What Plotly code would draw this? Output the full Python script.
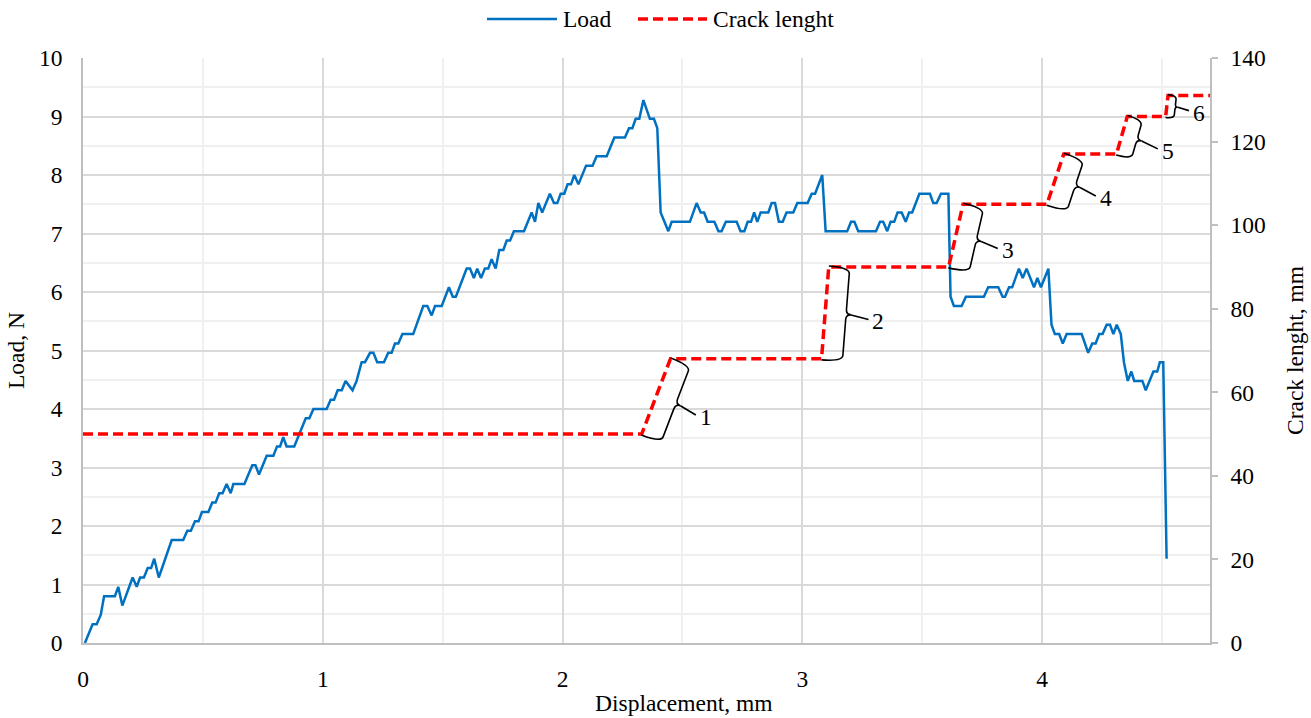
import math
import plotly.graph_objects as go

# Load–displacement record
displacement = [
    0.008, 0.040, 0.057, 0.074, 0.088, 0.133, 0.147, 0.164, 0.207, 0.224,
    0.238, 0.254, 0.270, 0.284, 0.297, 0.316, 0.370, 0.418, 0.435, 0.450,
    0.467, 0.482, 0.496, 0.523, 0.539, 0.553, 0.568, 0.582, 0.599, 0.616,
    0.627, 0.673, 0.706, 0.719, 0.734, 0.766, 0.794, 0.809, 0.822, 0.835,
    0.849, 0.881, 0.929, 0.944, 0.961, 1.016, 1.033, 1.047, 1.062, 1.079,
    1.095, 1.124, 1.141, 1.162, 1.176, 1.197, 1.211, 1.227, 1.255, 1.273,
    1.287, 1.301, 1.315, 1.332, 1.377, 1.419, 1.436, 1.454, 1.468, 1.496,
    1.526, 1.542, 1.555, 1.600, 1.614, 1.630, 1.644, 1.660, 1.676, 1.690,
    1.704, 1.721, 1.736, 1.753, 1.767, 1.781, 1.797, 1.839, 1.871, 1.885,
    1.899, 1.915, 1.947, 1.964, 1.978, 1.992, 2.007, 2.021, 2.035, 2.049,
    2.066, 2.098, 2.125, 2.142, 2.184, 2.216, 2.260, 2.277, 2.291, 2.305,
    2.320, 2.337, 2.364, 2.381, 2.395, 2.409, 2.441, 2.455, 2.531, 2.559,
    2.576, 2.590, 2.605, 2.633, 2.650, 2.663, 2.681, 2.726, 2.742, 2.758,
    2.772, 2.786, 2.799, 2.812, 2.826, 2.858, 2.872, 2.886, 2.902, 2.918,
    2.934, 2.962, 2.979, 3.022, 3.039, 3.053, 3.083, 3.097, 3.187, 3.203,
    3.217, 3.233, 3.307, 3.324, 3.337, 3.354, 3.368, 3.383, 3.397, 3.414,
    3.431, 3.445, 3.458, 3.488, 3.532, 3.546, 3.560, 3.578, 3.609, 3.618,
    3.632, 3.664, 3.682, 3.757, 3.775, 3.817, 3.835, 3.845, 3.862, 3.875,
    3.903, 3.919, 3.935, 3.966, 3.980, 3.995, 4.026, 4.039, 4.053, 4.071,
    4.086, 4.102, 4.165, 4.192, 4.209, 4.223, 4.238, 4.252, 4.269, 4.283,
    4.297, 4.311, 4.328, 4.341, 4.357, 4.372, 4.384, 4.418, 4.432, 4.464,
    4.480, 4.491, 4.505, 4.519,
]
load = [
    0.00, 0.32, 0.32, 0.48, 0.80, 0.80, 0.96, 0.64, 1.12, 0.96,
    1.12, 1.12, 1.28, 1.28, 1.44, 1.12, 1.76, 1.76, 1.92, 1.92,
    2.08, 2.08, 2.24, 2.24, 2.40, 2.40, 2.56, 2.56, 2.72, 2.56,
    2.72, 2.72, 3.04, 3.04, 2.88, 3.20, 3.20, 3.36, 3.36, 3.52,
    3.36, 3.36, 3.84, 3.84, 4.00, 4.00, 4.16, 4.16, 4.32, 4.32,
    4.48, 4.32, 4.48, 4.80, 4.80, 4.96, 4.96, 4.80, 4.80, 4.96,
    4.96, 5.12, 5.12, 5.28, 5.28, 5.76, 5.76, 5.60, 5.76, 5.76,
    6.08, 5.92, 5.92, 6.40, 6.40, 6.24, 6.40, 6.24, 6.40, 6.40,
    6.56, 6.40, 6.72, 6.72, 6.88, 6.88, 7.04, 7.04, 7.36, 7.20,
    7.52, 7.36, 7.68, 7.52, 7.52, 7.68, 7.68, 7.84, 7.84, 8.00,
    7.84, 8.16, 8.16, 8.32, 8.32, 8.64, 8.64, 8.80, 8.80, 8.96,
    8.96, 9.28, 8.96, 8.96, 8.80, 7.36, 7.04, 7.20, 7.20, 7.52,
    7.36, 7.36, 7.20, 7.20, 7.04, 7.04, 7.20, 7.20, 7.04, 7.04,
    7.20, 7.20, 7.36, 7.20, 7.36, 7.36, 7.52, 7.52, 7.20, 7.20,
    7.36, 7.36, 7.52, 7.52, 7.68, 7.68, 8.00, 7.04, 7.04, 7.20,
    7.20, 7.04, 7.04, 7.20, 7.20, 7.04, 7.20, 7.20, 7.36, 7.36,
    7.20, 7.36, 7.36, 7.68, 7.68, 7.52, 7.52, 7.68, 7.68, 5.92,
    5.76, 5.76, 5.92, 5.92, 6.08, 6.08, 5.92, 5.92, 6.08, 6.08,
    6.40, 6.24, 6.40, 6.08, 6.24, 6.08, 6.40, 5.44, 5.28, 5.28,
    5.12, 5.28, 5.28, 4.96, 5.12, 5.12, 5.28, 5.28, 5.44, 5.44,
    5.28, 5.44, 5.28, 4.80, 4.48, 4.64, 4.48, 4.48, 4.32, 4.64,
    4.64, 4.80, 4.80, 1.44,
]

# Crack length history (stepwise growth)
crack_disp = [0.0, 2.33, 2.45, 3.08, 3.11, 3.61, 3.67, 4.02, 4.09, 4.31, 4.355, 4.515, 4.525, 4.70]
crack_len = [50, 50, 68, 68, 90, 90, 105, 105, 117, 117, 126, 126, 131, 131]
step_labels = ["1", "2", "3", "4", "5", "6"]

x_ticks = [0, 1, 2, 3, 4]
load_ticks = list(range(0, 11))
crack_ticks = list(range(0, 141, 20))

# Figure geometry
W, H = 1311, 718
ML, MR, MT, MB = 83, 101, 58, 75
PW, PH = W - ML - MR, H - MT - MB
X_RANGE = [0, 4.7]
Y2_RANGE = [0, 140]

FONT = "Liberation Serif, Times New Roman, serif"
FS = 23.5
TXT = dict(family=FONT, size=FS, color="black")

LOAD_STYLE = dict(color="#0070C0", width=2.5)
CRACK_STYLE = dict(color="#FF0000", width=3.5, dash="10px,5px")


def to_px(x, y):
    return (ML + (x - X_RANGE[0]) / (X_RANGE[1] - X_RANGE[0]) * PW,
            MT + (1 - (y - Y2_RANGE[0]) / (Y2_RANGE[1] - Y2_RANGE[0])) * PH)


def to_data(px, py):
    return (X_RANGE[0] + (px - ML) / PW * (X_RANGE[1] - X_RANGE[0]),
            Y2_RANGE[0] + (1 - (py - MT) / PH) * (Y2_RANGE[1] - Y2_RANGE[0]))


def paper_x(px):
    return (px - ML) / PW


def paper_y(py):
    return (MT + PH - py) / PH


def brace(p0, p1):
    """Curly brace along segment p0->p1 (screen px), on its right-hand side."""
    dx, dy = p1[0] - p0[0], p1[1] - p0[1]
    length = math.hypot(dx, dy)
    t = (dx / length, dy / length)
    n = (-t[1], t[0])
    d = min(21.0, 0.4 * length)
    r = min(5.0, length / 8)

    def pt(base, a, b):
        return (base[0] + a * n[0] + b * t[0], base[1] + a * n[1] + b * t[1])

    mid = ((p0[0] + p1[0]) / 2, (p0[1] + p1[1]) / 2)
    pts = [
        ("M", [pt(p0, 0, -1)]),
        ("Q", [pt(p0, d, -1), pt(p0, d, r)]),
        ("L", [pt(mid, d, -r)]),
        ("Q", [pt(mid, d, 0), pt(mid, d + r, 0)]),
        ("Q", [pt(mid, d, 0), pt(mid, d, r)]),
        ("L", [pt(p1, d, -r)]),
        ("Q", [pt(p1, d, 1), pt(p1, 0, 1)]),
    ]
    path = ""
    for cmd, ps in pts:
        coords = " ".join("{:.5f},{:.5f}".format(*to_data(*p)) for p in ps)
        path += f"{cmd} {coords} "
    # leader line from the tip toward the number
    ang = math.radians(10)
    u = (n[0] * math.cos(ang) - n[1] * math.sin(ang), n[0] * math.sin(ang) + n[1] * math.cos(ang))
    ll = min(18.0, 0.55 * length)
    tip = pt(mid, d + r, 0)
    end = (tip[0] + ll * u[0], tip[1] + ll * u[1])
    lead = "M {:.5f},{:.5f} L {:.5f},{:.5f}".format(*to_data(*tip), *to_data(*end))
    return path.strip(), lead, end


fig = go.Figure()

fig.add_trace(go.Scatter(
    x=displacement, y=load, name="Load", mode="lines",
    line=LOAD_STYLE, yaxis="y", showlegend=False,
))
fig.add_trace(go.Scatter(
    x=crack_disp, y=crack_len, name="Crack lenght", mode="lines",
    line=CRACK_STYLE, yaxis="y2", showlegend=False,
))

shapes = []
annotations = []
k_label = 0
for k in range(len(crack_len) - 1):
    if crack_len[k + 1] > crack_len[k]:
        p0 = to_px(crack_disp[k], crack_len[k])
        p1 = to_px(crack_disp[k + 1], crack_len[k + 1])
        path, lead, end = brace(p0, p1)
        for pth in (path, lead):
            shapes.append(dict(type="path", path=pth, xref="x", yref="y2",
                               line=dict(color="black", width=1.6)))
        lx, ly = to_data(end[0] + 2, end[1] + 2)
        annotations.append(dict(x=lx, y=ly, xref="x", yref="y2", text=step_labels[k_label],
                                showarrow=False, xanchor="left", yanchor="middle", font=TXT))
        k_label += 1

# Legend row above the plot: sample line + label for each series
legend_y = 19
for (x0, x1, tx), (label, style) in zip(
        [(487, 557, 561), (638, 707, 711)],
        [("Load", LOAD_STYLE), ("Crack lenght", CRACK_STYLE)]):
    shapes.append(dict(type="line", xref="paper", yref="paper",
                       x0=paper_x(x0), x1=paper_x(x1), y0=paper_y(legend_y), y1=paper_y(legend_y),
                       line=style))
    annotations.append(dict(x=paper_x(tx), y=paper_y(legend_y), xref="paper", yref="paper",
                            text=label, showarrow=False, xanchor="left", yanchor="middle",
                            font=TXT))

# Horizontal axis title
annotations.append(dict(x=paper_x(684), y=paper_y(703), xref="paper", yref="paper",
                        text="Displacement, mm", showarrow=False, xanchor="center",
                        yanchor="middle", font=TXT))

fig.update_layout(
    width=W, height=H,
    margin=dict(l=ML, r=MR, t=MT, b=MB, autoexpand=False),
    paper_bgcolor="white", plot_bgcolor="white",
    font=TXT,
    showlegend=False,
    xaxis=dict(
        range=X_RANGE, tickvals=x_ticks, showgrid=True, gridcolor="#D9D9D9", gridwidth=1.5,
        minor=dict(dtick=0.5, tick0=0, showgrid=True, gridcolor="#F0F0F0", gridwidth=1.5),
        showline=True, linecolor="#BFBFBF", linewidth=1.5, zeroline=False, ticks="",
        ticklabelstandoff=14, tickfont=TXT,
    ),
    yaxis=dict(
        range=[0, 10], tickvals=load_ticks, showgrid=True, gridcolor="#D9D9D9", gridwidth=1.5,
        minor=dict(dtick=0.5, tick0=0, showgrid=True, gridcolor="#F0F0F0", gridwidth=1.5),
        showline=True, linecolor="#BFBFBF", linewidth=1.5, zeroline=False, ticks="",
        ticklabelstandoff=14, tickfont=TXT,
        title=dict(text="Load, N", standoff=8, font=TXT),
    ),
    yaxis2=dict(
        range=Y2_RANGE, tickvals=crack_ticks, overlaying="y", side="right",
        showgrid=False, zeroline=False, showline=True, linecolor="#BFBFBF", linewidth=1.5,
        ticks="outside", ticklen=6, tickcolor="#BFBFBF", tickwidth=1.5,
        ticklabelstandoff=8, tickfont=TXT,
        title=dict(text="Crack lenght, mm", standoff=22, font=TXT),
    ),
    shapes=shapes,
    annotations=annotations,
)

fig.write_html("out.html")
